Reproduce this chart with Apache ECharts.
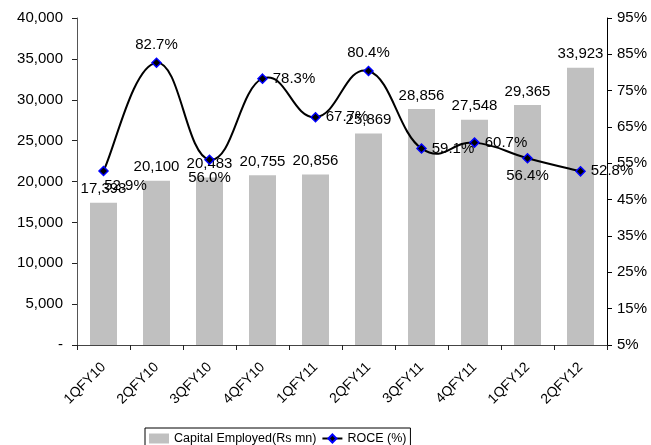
<!DOCTYPE html>
<html>
<head>
<meta charset="utf-8">
<script src="https://cdn.jsdelivr.net/npm/echarts@6/dist/echarts.min.js"></script>
<style>
  html, body { margin: 0; padding: 0; background: #fff; }
  #chart { width: 651px; height: 445px; }
</style>
</head>
<body>
<div id="chart"></div>
<script>
// Quarterly capital employed (Rs mn) and return on capital employed (%)
var quarters = ['1QFY10', '2QFY10', '3QFY10', '4QFY10', '1QFY11', '2QFY11', '3QFY11', '4QFY11', '1QFY12', '2QFY12'];
var capitalEmployed = [17398, 20100, 20483, 20755, 20856, 25869, 28856, 27548, 29365, 33923];
var roce = [52.9, 82.7, 56.0, 78.3, 67.7, 80.4, 59.1, 60.7, 56.4, 52.8];

// where each ROCE label sits relative to its point
var roceLabelPos = ['bottomRight', 'top', 'bottom', 'right', 'right', 'top', 'right', 'right', 'bottom', 'right'];

var FONT = 'Liberation Sans, Arial, sans-serif';

function fmtThousands(v) {
  if (v === 0) return '-';
  return String(v).replace(/\B(?=(\d{3})+(?!\d))/g, ',');
}

var roceData = roce.map(function (v, i) {
  var p = roceLabelPos[i];
  var label = {};
  if (p === 'bottomRight') {
    label = { position: 'bottom', offset: [22, -3] };
  } else {
    label = { position: p };
  }
  return { value: v, label: label };
});

// Cardinal-spline smoothing: one cubic segment from point i to i+1,
// with tangents taken from the neighbouring points (in pixel space).
function renderRoceSegment(params, api) {
  var i = params.dataIndex;
  var n = roce.length;
  if (i >= n - 1) return null;
  function pt(k) {
    k = Math.max(0, Math.min(n - 1, k));
    return api.coord([k, roce[k]]);
  }
  var p0 = pt(i - 1), p1 = pt(i), p2 = pt(i + 1), p3 = pt(i + 2);
  var t = 0.22;
  return {
    type: 'bezierCurve',
    shape: {
      x1: p1[0], y1: p1[1],
      x2: p2[0], y2: p2[1],
      cpx1: p1[0] + (p2[0] - p0[0]) * t,
      cpy1: p1[1] + (p2[1] - p0[1]) * t,
      cpx2: p2[0] - (p3[0] - p1[0]) * t,
      cpy2: p2[1] - (p3[1] - p1[1]) * t
    },
    style: { stroke: '#000', lineWidth: 2, fill: null }
  };
}

var chart = echarts.init(document.getElementById('chart'));
chart.setOption({
  animation: false,
  textStyle: { fontFamily: FONT },
  grid: { left: 77, right: 44, top: 18, bottom: 100 },
  legend: {
    left: 145,
    top: 428,
    padding: [4, 4, 6, 4],
    borderColor: '#000',
    borderWidth: 1,
    borderRadius: 0,
    itemGap: 5,
    itemWidth: 20,
    itemHeight: 10,
    textStyle: { fontFamily: FONT, fontSize: 12.5, color: '#000' },
    data: [
      { name: 'Capital Employed(Rs mn)', icon: 'rect' },
      { name: 'ROCE (%)', lineStyle: { color: '#000', width: 2, opacity: 1 } }
    ]
  },
  xAxis: {
    type: 'category',
    data: quarters,
    boundaryGap: true,
    axisLine: { lineStyle: { color: '#444', width: 1 } },
    axisTick: { show: true, length: 5, interval: 0, lineStyle: { color: '#222' } },
    axisLabel: { rotate: 45, interval: 0, fontSize: 14, color: '#000', fontFamily: FONT, margin: 20 },
    splitLine: { show: false }
  },
  yAxis: [
    {
      type: 'value',
      min: 0,
      max: 40000,
      interval: 5000,
      position: 'left',
      axisLine: { show: true, lineStyle: { color: '#555' } },
      axisTick: { show: true, length: 5, lineStyle: { color: '#222' } },
      axisLabel: { fontSize: 15, color: '#000', fontFamily: FONT, margin: 14, formatter: fmtThousands },
      splitLine: { show: false }
    },
    {
      type: 'value',
      min: 5,
      max: 95,
      interval: 10,
      position: 'right',
      axisLine: { show: true, lineStyle: { color: '#000' } },
      axisTick: { show: true, length: 5, lineStyle: { color: '#000' } },
      axisLabel: { fontSize: 15, color: '#000', fontFamily: FONT, margin: 10, formatter: '{value}%' },
      splitLine: { show: false }
    }
  ],
  series: [
    {
      name: 'Capital Employed(Rs mn)',
      type: 'bar',
      yAxisIndex: 0,
      data: capitalEmployed,
      barWidth: 27,
      itemStyle: { color: '#C0C0C0' },
      label: {
        show: true,
        position: 'top',
        distance: 6,
        fontSize: 15,
        color: '#000',
        fontFamily: FONT,
        formatter: function (p) { return fmtThousands(p.value); }
      },
      z: 1
    },
    {
      name: 'ROCE curve',
      type: 'custom',
      yAxisIndex: 1,
      data: roce.map(function (v, i) { return [i, v]; }),
      renderItem: renderRoceSegment,
      silent: true,
      z: 2
    },
    {
      name: 'ROCE (%)',
      type: 'line',
      yAxisIndex: 1,
      data: roceData,
      symbol: 'diamond',
      symbolSize: 9,
      lineStyle: { color: '#000', width: 0, opacity: 0 },
      itemStyle: { color: '#000', borderColor: '#0000FF', borderWidth: 1.5 },
      label: {
        show: true,
        fontSize: 15,
        color: '#000',
        fontFamily: FONT,
        distance: 5,
        formatter: function (p) { return p.value.toFixed(1) + '%'; }
      },
      z: 3
    }
  ]
});
</script>
</body>
</html>
